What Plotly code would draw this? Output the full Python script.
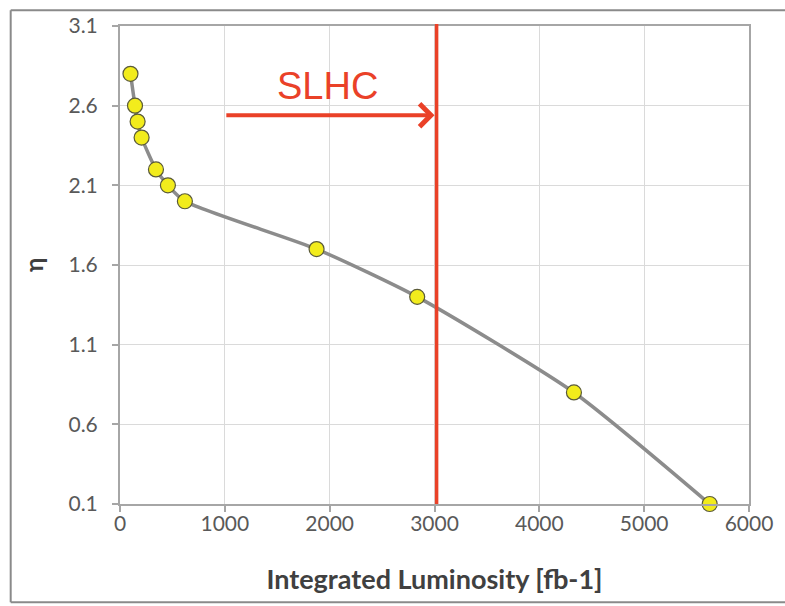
import plotly.graph_objects as go

lumi = [100, 143, 168, 206, 343, 457, 619, 1875, 2835, 4330, 5625]
eta = [2.8, 2.6, 2.5, 2.4, 2.2, 2.1, 2.0, 1.7, 1.4, 0.8, 0.1]
x_ticks = [0, 1000, 2000, 3000, 4000, 5000, 6000]
y_ticks = [0.1, 0.6, 1.1, 1.6, 2.1, 2.6, 3.1]
slhc_lumi = 3020
arrow_start = 1000
arrow_eta = 2.54
label_text = "SLHC"

RED = "#EA4128"
fig = go.Figure()
fig.add_trace(go.Scatter(
    x=lumi, y=eta, mode="lines+markers",
    line=dict(color="#8C8C8C", width=3.5, shape="spline", smoothing=0.6),
    marker=dict(size=15, color="#F2EC1C", line=dict(color="#5A5A3A", width=1.2)),
    showlegend=False, cliponaxis=False,
))

fig.add_shape(type="line", xref="x", yref="paper", x0=slhc_lumi, x1=slhc_lumi,
              y0=0, y1=1.004, line=dict(color=RED, width=3.5), layer="above")

fig.add_annotation(x=slhc_lumi - 20, y=arrow_eta, ax=arrow_start, ay=arrow_eta,
                   xref="x", yref="y", axref="x", ayref="y", text="",
                   showarrow=True, arrowhead=4, arrowsize=1.1, arrowwidth=4,
                   arrowcolor=RED, standoff=0)
fig.add_annotation(x=1981, y=2.725, xref="x", yref="y", text=label_text,
                   showarrow=False, font=dict(family="Liberation Sans, Arial", size=38, color=RED))

# outer border: left, top and bottom edges only (right edge lies outside the picture)
bx0 = (10 - 120) / 633
bx1 = 1.2
by0 = (504 - 603) / 482
by1 = (504 - 6) / 482
for (a, b, c, d) in [(bx0, by0, bx0, by1), (bx0, by1, bx1, by1), (bx0, by0, bx1, by0)]:
    fig.add_shape(type="line", xref="paper", yref="paper", x0=a, y0=b, x1=c, y1=d,
                  line=dict(color="#8A8A8A", width=2), layer="below")

axis_common = dict(showgrid=True, gridcolor="#DADADA", gridwidth=1.3,
                   showline=True, linecolor="#A6A6A6", linewidth=2, mirror=True,
                   ticks="outside", ticklen=6, tickcolor="#A6A6A6", tickwidth=1.5,
                   tickfont=dict(family="Lato, Open Sans", size=21, color="#595959"),
                   zeroline=False)

fig.update_xaxes(range=[0, 6000], tickvals=x_ticks, ticktext=[str(v) for v in x_ticks],
                 ticklabelstandoff=-6,
                 title=dict(text="<b>Integrated Luminosity [fb-1]</b>", standoff=36,
                            font=dict(family="Lato, Open Sans", size=27, color="#404040")),
                 **axis_common)
fig.update_yaxes(range=[0.1, 3.1], tickvals=y_ticks, ticktext=[f"{v:.1f}" for v in y_ticks],
                 ticklabelstandoff=10,
                 title=dict(text="<b>η</b>", standoff=18,
                            font=dict(family="Lato, Open Sans", size=24, color="#404040")),
                 **axis_common)

fig.update_layout(width=785, height=606, margin=dict(l=120, r=32, t=22, b=102),
                  paper_bgcolor="white", plot_bgcolor="white")
fig.write_html("out.html")
